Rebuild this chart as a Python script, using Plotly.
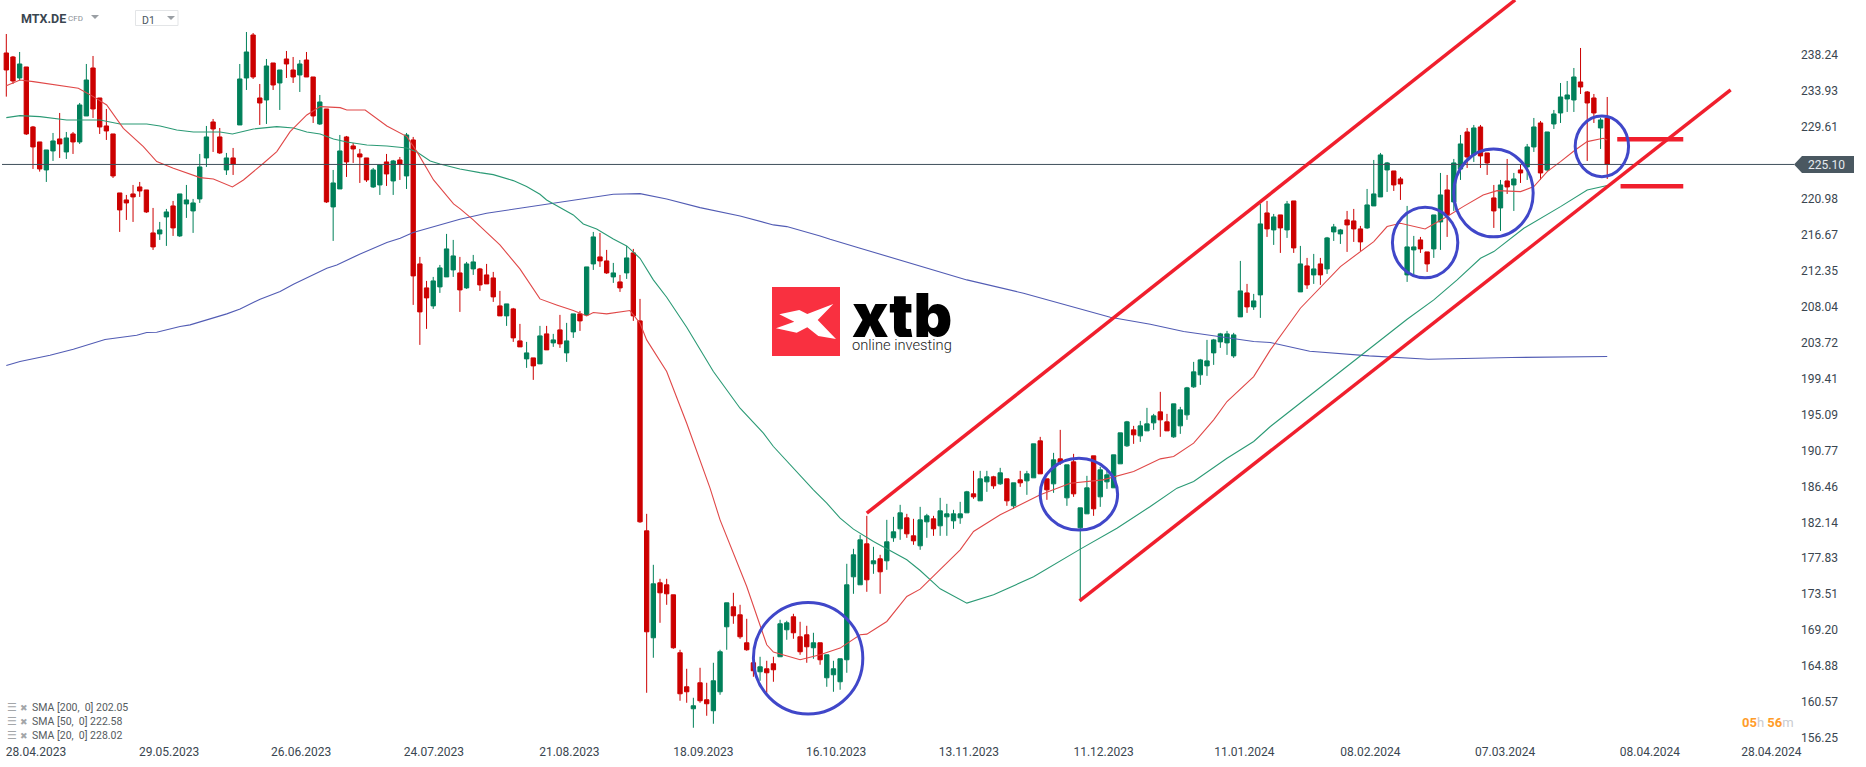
import plotly.graph_objects as go

# daily candles
opens = [238.48,238.0,235.48,236.8,229.6,227.8,224.44,226.72,228.16,226.6,
	228.76,227.8,230.92,236.68,233.08,229.72,228.76,221.68,220.84,221.56,
	222.4,222.04,216.88,216.76,218.8,220.12,216.52,220.36,219.52,220.96,
	225.88,230.2,228.4,224.44,225.88,229.84,235.48,240.64,233.08,232.84,
	237.28,234.88,237.76,236.44,235.84,237.64,235.6,229.96,231.76,220.0,
	222.16,228.4,227.32,226.36,225.88,222.4,222.64,225.4,223.12,225.64,
	223.72,228.04,213.16,210.28,208.12,210.4,211.6,212.44,212.08,210.28,
	212.56,212.56,211.84,211.48,208.12,206.92,207.76,203.92,201.76,201.88,
	201.16,204.76,203.68,205.24,202.48,205.0,207.16,207.04,213.16,214.0,
	213.52,211.6,211.0,212.08,214.48,206.32,181.12,168.28,174.88,174.64,
	173.44,166.48,162.4,159.76,162.88,160.84,159.52,161.8,169.6,172.0,
	171.04,167.68,165.28,164.2,164.56,165.16,166.0,169.24,170.8,168.4,
	168.64,167.08,167.68,163.48,163.84,163.0,165.64,175.6,174.64,179.56,
	177.16,177.76,177.52,180.28,181.36,182.68,180.52,179.32,182.2,182.56,
	181.72,182.8,182.32,182.68,183.28,185.56,184.72,187.0,187.6,186.76,
	187.36,184.12,187.24,187.12,187.48,191.92,187.36,186.76,189.76,185.08,
	189.4,181.48,183.16,190.12,185.2,187.0,186.28,189.16,191.32,193.24,
	192.52,193.12,194.08,195.4,194.2,192.4,193.72,195.04,198.4,199.84,
	200.92,202.48,203.8,203.68,202.12,206.8,209.68,208.0,209.44,219.28,
	217.24,219.04,217.24,220.72,209.8,212.92,211.84,213.16,212.56,217.0,
	216.76,218.44,218.32,217.36,217.48,220.12,221.2,224.44,224.32,223.36,
	211.84,214.84,216.04,214.6,214.96,218.2,222.04,220.6,224.56,229.0,
	226.24,229.6,226.48,221.08,219.88,223.12,222.64,224.44,224.8,227.2,
	230.08,224.44,229.96,231.28,232.96,232.84,235.0,233.8,233.08,229.48,
	230.68]
highs = [240.76,238.12,238.6,236.8,229.72,227.8,226.84,228.88,231.28,229.0,
	229.0,232.48,237.16,238.12,233.08,231.76,228.76,221.68,221.44,222.64,
	223.0,222.04,219.88,218.2,219.76,220.72,221.56,222.64,220.96,226.36,
	229.72,230.56,229.48,226.48,227.08,237.16,241.0,240.88,234.76,237.76,
	237.28,236.44,238.72,238.0,237.64,238.6,235.6,233.44,231.76,224.44,
	228.64,228.52,227.68,226.96,225.88,224.68,225.04,226.36,225.64,226.0,
	228.88,228.4,214.0,211.12,211.6,213.04,216.76,216.04,214.0,213.4,
	214.24,212.68,213.16,212.2,209.92,208.36,207.88,205.96,203.8,201.88,
	205.72,205.72,204.76,207.04,206.08,207.16,207.52,212.8,217.0,216.88,
	214.84,213.28,211.84,215.32,214.96,208.96,183.16,177.04,175.36,175.36,
	173.44,166.84,164.56,161.08,164.68,162.88,165.28,166.84,172.48,173.68,
	172.24,170.56,165.28,166.0,165.52,166.0,170.44,170.32,171.16,170.2,
	169.72,168.88,167.68,166.24,165.52,165.76,177.16,178.96,180.64,182.92,
	179.2,178.24,182.44,182.8,184.24,183.16,182.56,184.0,183.16,182.92,
	185.08,184.36,183.64,184.6,185.92,188.32,188.32,188.32,187.72,188.68,
	187.36,186.88,188.32,188.32,191.56,192.4,187.36,190.48,193.24,189.04,
	190.36,183.88,187.72,190.12,188.8,188.44,190.24,192.88,194.32,193.72,
	194.32,195.88,195.16,197.8,195.16,196.36,196.0,198.4,201.4,201.76,
	204.04,204.16,204.88,205.12,204.88,213.52,210.76,209.56,220.36,220.72,
	219.16,219.04,220.72,220.72,215.32,213.88,214.36,213.88,216.4,217.96,
	217.36,219.52,219.76,217.72,222.16,225.64,226.48,225.4,224.32,223.6,
	220.12,216.52,216.4,214.6,219.04,224.08,223.84,225.76,228.64,229.48,
	229.84,229.84,226.48,222.64,223.24,225.76,224.08,225.04,227.56,230.68,
	230.32,229.0,231.64,234.88,235.12,236.68,239.08,233.92,233.56,230.68,
	233.2]
lows = [233.24,234.76,235.16,228.64,224.56,224.24,223.0,225.52,225.88,225.76,
	226.36,227.56,230.92,230.68,228.76,228.04,223.48,217.0,218.44,218.2,
	221.2,219.28,214.84,216.04,215.32,216.52,216.4,218.68,216.88,220.48,
	224.8,226.6,226.36,223.84,223.84,229.84,234.04,235.36,229.84,229.96,
	234.04,231.64,235.48,234.88,233.8,235.6,230.08,229.84,220.48,215.92,
	222.16,223.6,225.28,222.88,223.0,222.28,221.44,222.52,221.44,223.24,
	222.16,208.24,203.44,205.36,207.76,209.68,211.6,211.6,207.4,210.16,
	211.84,209.92,210.76,208.6,206.92,205.72,203.8,203.2,200.68,199.24,
	201.16,202.84,203.2,203.08,201.4,204.28,205.12,206.92,212.44,212.8,
	211.96,210.88,209.8,211.36,206.32,182.08,161.68,165.88,170.08,172.24,
	166.96,160.72,160.48,157.48,160.48,158.92,157.96,161.44,166.84,169.96,
	168.16,166.72,163.6,163.12,161.68,163.0,166.0,168.04,168.16,166.24,
	165.28,165.76,165.04,162.4,161.8,162.04,164.08,173.56,174.64,173.8,
	175.96,173.56,176.44,179.8,180.04,180.28,179.44,178.84,180.28,180.52,
	180.52,180.52,181.36,181.96,183.28,184.96,184.72,185.8,186.16,186.64,
	184.12,183.76,186.4,185.44,187.48,187.96,184.84,185.68,189.04,184.12,
	185.2,172.72,183.16,182.92,184.0,186.16,186.28,189.16,191.2,191.56,
	191.8,193.12,193.24,192.4,193.12,192.28,192.76,194.44,198.28,198.64,
	199.72,201.04,203.08,202.24,201.88,206.8,207.28,207.64,206.68,216.4,
	215.44,214.48,216.28,214.48,209.8,210.16,210.76,210.64,211.96,215.92,
	215.56,214.6,215.8,214.72,217.36,220.12,221.2,221.8,221.92,220.84,
	211.0,211.84,214.48,212.2,213.88,214.84,216.4,219.52,223.24,224.68,
	225.4,224.68,223.84,217.48,217.12,221.56,219.52,222.88,223.24,226.6,
	223.24,224.32,229.36,230.08,231.4,231.4,233.56,225.52,230.08,226.96,
	223.36]
closes = [236.44,235.12,237.16,228.76,227.2,224.56,226.84,227.92,227.56,228.28,
	227.8,232.24,235.24,231.76,229.6,229.12,223.72,219.64,220.48,221.2,
	221.92,219.4,215.2,217.24,219.4,217.48,221.56,220.84,220.48,224.8,
	228.4,229.36,226.48,225.88,225.16,235.36,238.6,235.6,232.48,236.92,
	234.64,236.44,237.16,235.6,237.16,235.6,230.92,232.6,220.6,222.88,
	226.72,225.4,226.96,226.0,223.24,224.44,225.04,223.96,225.52,225.16,
	228.64,211.72,207.4,209.08,211.12,212.68,214.96,214.12,210.04,213.16,
	213.4,210.64,210.76,209.2,206.92,208.36,204.28,203.2,202.48,200.92,
	204.52,202.84,204.04,203.56,203.92,207.16,206.32,212.8,216.4,213.52,
	212.08,212.08,210.28,213.88,206.92,182.2,169.0,174.76,173.68,173.56,
	167.08,161.56,161.8,160.12,160.72,160.36,163.12,166.6,172.48,170.92,
	168.4,166.84,164.32,164.8,164.08,164.44,169.96,170.08,168.88,166.6,
	167.2,167.68,165.64,166.24,164.56,165.76,174.64,178.24,180.04,175.24,
	177.52,176.2,179.8,181.0,183.28,180.76,179.92,182.44,182.92,181.36,
	183.52,183.16,183.16,183.16,185.8,185.2,187.36,187.6,186.52,188.08,
	184.72,186.88,186.88,187.96,191.56,187.96,186.04,189.64,189.28,189.04,
	185.56,183.88,186.28,183.76,188.44,187.84,190.24,192.88,194.2,192.64,
	193.72,193.96,194.92,194.44,193.12,196.36,195.64,198.28,200.2,201.64,
	201.52,204.04,204.76,204.76,204.64,209.92,208.0,208.72,217.96,217.36,
	218.8,217.48,220.36,215.08,213.16,210.64,212.56,211.84,216.28,217.6,
	217.24,217.84,217.36,215.8,220.24,221.56,226.24,225.28,222.64,222.76,
	215.2,215.2,214.96,213.16,219.04,221.44,219.04,225.28,227.56,226.0,
	229.48,226.12,225.28,219.52,222.64,222.4,223.36,224.08,227.2,229.6,
	224.08,229.0,231.16,233.2,233.44,235.6,234.4,232.48,231.28,230.44,
	225.10]
bars = list(range(len(closes)))

# moving averages, sampled along the drawn lines
sma20_x = [0,2.05,4.05,9.05,10.8,13.05,15.05,17.55,20.55,22.55,25.05,29.05,31.05,33.9,35.55,38.55,40.55,42.55,45.05,47.05,
	50.05,51.05,53.8,57.05,60.05,61.55,64.05,67.05,68.05,70,74,77,80,82.5,85,87,88,90,93.5,95,96,99,102,105.5,
	107,111,114,115,119,122,125,128,129,132,135,137,143,145,149,155,159.5,164.4,169,173,175,178,181,183,187,189.5,
	192.8,194,200,205,207,209,212.7,216,218.4,221.4,223.5,227,229,231,233,235.2,237,239.4,240]
sma20_y = [234.56,235.24,235.04,234.44,234.24,233.24,232.24,229.44,227.24,225.44,224.64,223.52,223.36,222.4,223.24,225.24,226.64,229.04,231.04,232.04,
	231.92,231.64,231.64,229.72,228.44,226.64,223.24,220.36,219.76,218.44,215.44,212.56,208.96,208.24,207.56,206.92,207.32,207.16,207.56,206.04,204.04,200.24,194.04,186.24,
	182.44,174.44,167.44,166.56,165.64,166.24,167.04,168.64,168.72,170.24,173.24,174.12,178.84,181.04,183.04,185.44,186.84,187.24,188.24,189.76,190.04,191.64,194.44,196.64,199.64,202.84,
	206.52,207.84,212.84,215.84,217.64,218.04,217.36,218.84,220.04,221.44,221.96,221.84,222.44,224.24,225.44,226.84,227.84,228.24,228.02]
sma50_x = [0,2.05,5.05,9.05,14.05,17.05,21.05,23.05,25.55,28.05,32.05,33.9,37.05,40.55,43.05,45.05,47.05,49.05,51.05,54.05,57.05,60.05,61.55,63.55,65,68,
	71,73,76,78,80,81,85,86.5,88.5,91,93,95,97,99,102,106,110,113.5,115,121,123,125,127,130,135,137,140,144,148,154,
	161,166.5,171.5,175.5,178,183,187,189.5,210,214,217.5,221,223,227.5,233,237,240]
sma50_y = [230.72,230.96,230.84,230.44,230.44,229.96,229.96,229.72,229.24,229.0,229.0,228.76,229.36,229.64,229.48,229.0,228.76,228.16,227.8,227.44,227.32,227.08,226.6,225.52,225.16,224.56,
	224.12,223.88,223.16,222.44,221.52,220.84,219.04,217.96,217.36,216.16,215.32,213.84,211.24,209.16,205.56,200.24,195.84,192.84,191.24,186.04,184.44,182.64,181.32,179.84,177.64,176.36,174.16,172.44,173.44,175.6,
	178.92,181.44,184.04,186.24,187.04,189.84,191.84,193.64,206.52,208.84,211.24,213.84,214.64,217.44,220.04,222.04,222.58]
sma200_x = [0,2.05,6.55,10.05,14.8,19.55,21.05,22.55,26.05,27.55,33.05,35.05,38.05,41.05,43.05,46.05,48.05,49.55,53.05,57.05,59.05,61,65,68,72,82,91,95,99,104,110,115,117,122,123.5,128,
	136,144,152.5,157.5,165.5,171.5,176.5,187,189.5,195.4,204.3,213.2,225.6,240]
sma200_y = [200.96,201.44,202.2,202.92,204.08,204.6,204.92,204.96,205.64,205.84,207.16,207.76,208.92,209.84,210.72,211.92,212.64,213.04,214.36,215.72,216.24,216.92,217.84,218.52,219.24,220.44,221.52,221.6,220.96,219.92,218.92,217.84,217.64,216.52,216.12,215.04,
	213.16,211.24,209.64,208.52,206.76,205.92,205.04,203.84,203.72,202.68,202.12,201.72,201.92,202.05]

# hand drawn channel, levels and circles
channel_upper_x = [129, 226.2]
channel_upper_y = [183.24, 244.84]
channel_lower_x = [160.9, 258.5]
channel_lower_y = [172.72, 234.04]
level_x = [[241.5, 251.4], [242, 251.4]]
level_y = [228.12, 222.48]
circle_x = [[112.0, 128.4], [155.0, 166.6], [207.8, 217.6], [217.0, 228.9], [235.2, 243.2]]
circle_y = [[159.13, 172.53], [181.21, 189.82], [211.5, 219.95], [216.42, 226.95], [223.63, 230.91]]

price_ticks = [238.24,233.93,229.61,220.98,216.67,212.35,208.04,203.72,199.41,195.09,190.77,186.46,182.14,177.83,173.51,169.20,164.88,160.57,156.25]
date_ticks = [4.45,24.4,44.2,64.1,84.4,104.5,124.4,144.3,164.5,185.6,204.5,224.7,246.4,264.6]
date_labels = ["28.04.2023","29.05.2023","26.06.2023","24.07.2023","21.08.2023","18.09.2023","16.10.2023","13.11.2023","11.12.2023","11.01.2024","08.02.2024","07.03.2024","08.04.2024","28.04.2024"]
last_price = 225.10
sma_labels = ["SMA [200,  0] 202.05", "SMA [50,  0] 222.58", "SMA [20,  0] 228.02"]

PLOT_W = 1800
PLOT_H = 743
RED = "#cc0000"
GREEN = "#00805a"
DRAW_RED = "#f01f2d"
DRAW_BLUE = "#4047c9"
TEXT = "#3a4650"

def px(x):
	return x / PLOT_W

def py(y):
	return 1 - y / PLOT_H

def label(x, y, text, size=12, color=TEXT, family="Roboto", anchor="left", height=None, **kw):
	return dict(xref="paper", yref="paper", x=px(x), y=py(y), text=text, showarrow=False, xanchor=anchor, yanchor="middle", height=height,
		font=dict(family=family, size=size, color=color, **kw))

def poly(points):
	return "M " + " L ".join("%.5f %.5f" % (px(x), py(y)) for x, y in points) + " Z"

fig = go.Figure()

fig.add_trace(go.Candlestick(
	x=bars, open=opens, high=highs, low=lows, close=closes,
	increasing=dict(line=dict(color=GREEN, width=1), fillcolor=GREEN),
	decreasing=dict(line=dict(color=RED, width=1), fillcolor=RED),
	whiskerwidth=0,
	hoverinfo="skip"
))
fig.add_trace(go.Scatter(x=sma200_x, y=sma200_y, mode="lines", line=dict(color="#525cb4", width=1.1), hoverinfo="skip"))
fig.add_trace(go.Scatter(x=sma50_x, y=sma50_y, mode="lines", line=dict(color="#2b9a75", width=1.1), hoverinfo="skip"))
fig.add_trace(go.Scatter(x=sma20_x, y=sma20_y, mode="lines", line=dict(color="#e04848", width=1.1), hoverinfo="skip"))

shapes = []

# last price line and tag
shapes.append(dict(type="line", xref="paper", yref="y", x0=px(2), x1=px(1794), y0=last_price, y1=last_price, line=dict(color="#3f4f5b", width=1)))
shapes.append(dict(type="path", xref="paper", yref="paper", path=poly([(1794, 164.5), (1802, 156), (1854, 156), (1854, 173), (1802, 173)]),
	fillcolor="#4a5861", line=dict(width=0)))

# channel lines, levels, circles
shapes.append(dict(type="line", x0=channel_upper_x[0], x1=channel_upper_x[1], y0=channel_upper_y[0], y1=channel_upper_y[1], line=dict(color=DRAW_RED, width=3.5)))
shapes.append(dict(type="line", x0=channel_lower_x[0], x1=channel_lower_x[1], y0=channel_lower_y[0], y1=channel_lower_y[1], line=dict(color=DRAW_RED, width=3.5)))
for xs, y in zip(level_x, level_y):
	shapes.append(dict(type="line", x0=xs[0], x1=xs[1], y0=y, y1=y, line=dict(color=DRAW_RED, width=4.5)))
for xs, ys in zip(circle_x, circle_y):
	shapes.append(dict(type="circle", x0=xs[0], x1=xs[1], y0=ys[0], y1=ys[1], line=dict(color=DRAW_BLUE, width=3)))

# logo
shapes.append(dict(type="rect", xref="paper", yref="paper", x0=px(772), x1=px(840), y0=py(356), y1=py(287), fillcolor="#f93040", line=dict(width=0)))
shapes.append(dict(type="path", xref="paper", yref="paper", fillcolor="#ffffff", line=dict(width=0),
	path=poly([(779.3, 314.3), (799.3, 310), (807.3, 314), (833.3, 304), (817.7, 320), (836, 339), (818.3, 336), (807.3, 327.3), (796.7, 332.7), (776, 328.3), (794.3, 321.7)])))

# D1 box and the small header triangles
shapes.append(dict(type="rect", xref="paper", yref="paper", x0=px(135.5), x1=px(178), y0=py(25.5), y1=py(10.5), line=dict(color="#e3e5e7", width=1)))
shapes.append(dict(type="path", xref="paper", yref="paper", path=poly([(91, 15), (99, 15), (95, 19)]), fillcolor="#9a9fa4", line=dict(width=0)))
shapes.append(dict(type="path", xref="paper", yref="paper", path=poly([(167, 16), (175, 16), (171, 20)]), fillcolor="#9a9fa4", line=dict(width=0)))

annotations = [
	label(1806, 164.5, "%.2f" % last_price, color="#e6eaed"),
	label(18.5, 19, "<b>MTX.DE</b>", size=12.5),
	label(66, 19, "CFD", size=8, color="#8a9096"),
	label(140, 20, "D1", size=10.5, color="#4a5661"),
	label(850, 315, "xtb", size=60, color="#000000", family="Inter", height=44, weight=900),
	label(850, 345, "online investing", size=14.7, color="#222222", family="Roboto", weight=300),
	label(1740, 722, "<span style='color:#ff9c2a'><b>05</b></span>h <span style='color:#ff9c2a'><b>56</b></span>m", size=13, color="#c9ccd0"),
]
for i, s in enumerate(sma_labels):
	annotations.append(label(5, 707.7 + 14 * i, "☰", size=11, color="#a3a6a9", family="DejaVu Sans"))
	annotations.append(label(18, 707.7 + 14 * i, "✖", size=9, color="#a3a6a9", family="DejaVu Sans"))
	annotations.append(label(30, 707.7 + 14 * i, s, size=10.5, color="#555b60"))

fig.update_layout(
	width=1866, height=767,
	margin=dict(l=0, r=1866 - PLOT_W, t=0, b=767 - PLOT_H),
	paper_bgcolor="#ffffff", plot_bgcolor="#ffffff",
	showlegend=False,
	boxgap=0.35,
	boxgroupgap=0,
	shapes=shapes,
	annotations=annotations,
	font=dict(family="Roboto", size=12, color=TEXT),
	xaxis=dict(range=[-0.945, 268.9], rangeslider=dict(visible=False), showgrid=False, zeroline=False, showline=False, ticks="",
		tickmode="array", tickvals=date_ticks, ticktext=date_labels, tickfont=dict(family="Roboto", size=12, color=TEXT)),
	yaxis=dict(range=[155.65, 244.84], side="right", showgrid=False, zeroline=False, showline=False, ticks="",
		tickmode="array", tickvals=price_ticks, ticktext=["%.2f" % p for p in price_ticks], tickfont=dict(family="Roboto", size=12, color=TEXT)),
)

fig.write_html("out.html", config=dict(displayModeBar=False), post_script="document.body.style.margin='0';document.body.style.overflow='hidden';")
